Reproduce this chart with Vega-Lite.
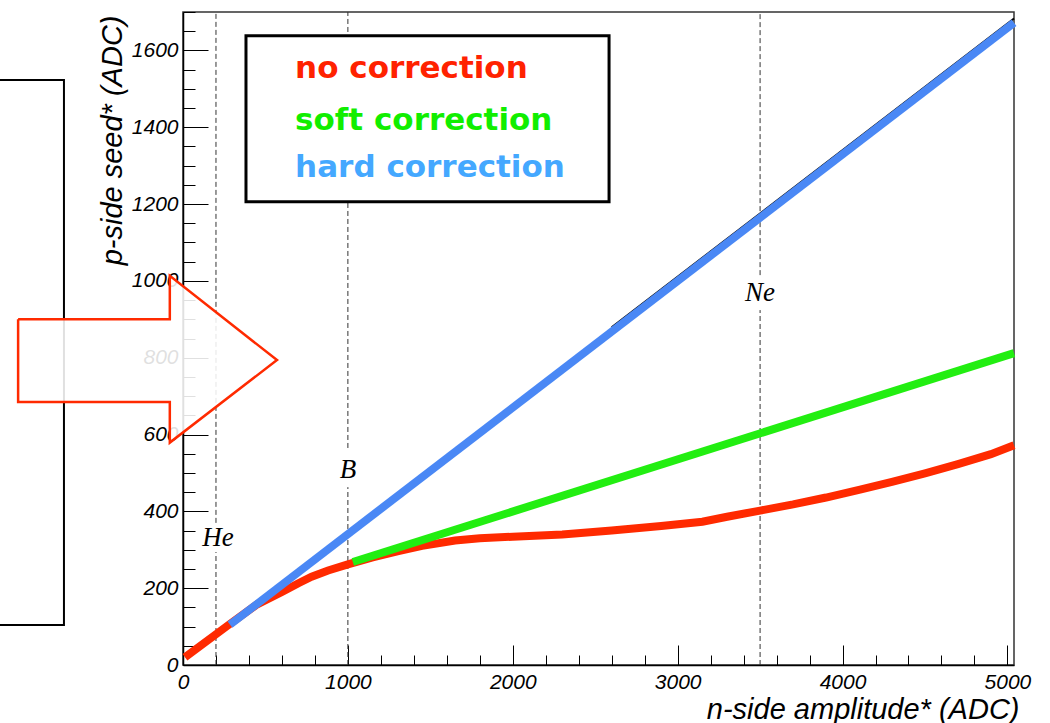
{
  "$schema": "https://vega.github.io/schema/vega-lite/v6.json",
  "width": 831,
  "height": 653,
  "autosize": {"type": "none"},
  "padding": {"left": 183, "top": 12, "right": 36, "bottom": 58},
  "background": "white",
  "config": {
    "view": {"stroke": "#333333", "strokeWidth": 1.5},
    "axis": {
      "grid": false,
      "domainColor": "#000000",
      "domainWidth": 1.5,
      "tickColor": "#000000",
      "tickWidth": 1,
      "labelFont": "Liberation Sans",
      "labelFontStyle": "italic",
      "labelFontSize": 21,
      "labelColor": "#000000",
      "titleFont": "Liberation Sans",
      "titleFontStyle": "italic",
      "titleFontWeight": "normal",
      "titleFontSize": 29,
      "titleColor": "#000000"
    }
  },
  "datasets": {
    "curves": [
      {"series": "no correction", "x": 12, "y": 20},
      {"series": "no correction", "x": 285, "y": 107},
      {"series": "no correction", "x": 450, "y": 158},
      {"series": "no correction", "x": 600, "y": 190},
      {"series": "no correction", "x": 700, "y": 213},
      {"series": "no correction", "x": 780, "y": 230},
      {"series": "no correction", "x": 880, "y": 246},
      {"series": "no correction", "x": 1000, "y": 262},
      {"series": "no correction", "x": 1150, "y": 280},
      {"series": "no correction", "x": 1300, "y": 296},
      {"series": "no correction", "x": 1450, "y": 310},
      {"series": "no correction", "x": 1650, "y": 324},
      {"series": "no correction", "x": 1800, "y": 330},
      {"series": "no correction", "x": 2000, "y": 334},
      {"series": "no correction", "x": 2300, "y": 340},
      {"series": "no correction", "x": 2600, "y": 350},
      {"series": "no correction", "x": 2900, "y": 362},
      {"series": "no correction", "x": 3150, "y": 373},
      {"series": "no correction", "x": 3300, "y": 386},
      {"series": "no correction", "x": 3500, "y": 402},
      {"series": "no correction", "x": 3700, "y": 418},
      {"series": "no correction", "x": 3900, "y": 436},
      {"series": "no correction", "x": 4100, "y": 456},
      {"series": "no correction", "x": 4300, "y": 477},
      {"series": "no correction", "x": 4500, "y": 499},
      {"series": "no correction", "x": 4700, "y": 523},
      {"series": "no correction", "x": 4900, "y": 549},
      {"series": "no correction", "x": 5040, "y": 572},
      {"series": "soft correction", "x": 1030, "y": 268},
      {"series": "soft correction", "x": 5040, "y": 812},
      {"series": "hard correction", "x": 285, "y": 105},
      {"series": "hard correction", "x": 5040, "y": 1672}
    ],
    "profile": [
      {"x": 2600, "y": 879},
      {"x": 5040, "y": 1683}
    ],
    "markers": [
      {"x": 200, "y": 0, "y2": 294},
      {"x": 200, "y": 370, "y2": 1700},
      {"x": 1000, "y": 0, "y2": 463},
      {"x": 1000, "y": 565, "y2": 1700},
      {"x": 3500, "y": 0, "y2": 924},
      {"x": 3500, "y": 1015, "y2": 1700}
    ],
    "markerLabels": [
      {"name": "He", "x": 212, "y": 331},
      {"name": "B", "x": 1000, "y": 508},
      {"name": "Ne", "x": 3500, "y": 968}
    ],
    "legendBox": [{"x": 382, "x2": 2584, "y": 1638, "y2": 1206}],
    "legendText": [
      {"series": "no correction", "x": 680, "y": 1527},
      {"series": "soft correction", "x": 680, "y": 1394},
      {"series": "hard correction", "x": 680, "y": 1270}
    ],
    "sideBox": [{"x": -1500, "x2": -722, "y": 1523, "y2": 104}],
    "arrow": [
      {"i": 0, "x": -1000, "y": 900},
      {"i": 1, "x": -80, "y": 900},
      {"i": 2, "x": -80, "y": 1013},
      {"i": 3, "x": 570, "y": 794},
      {"i": 4, "x": -80, "y": 579},
      {"i": 5, "x": -80, "y": 685},
      {"i": 6, "x": -1000, "y": 685},
      {"i": 7, "x": -1000, "y": 900}
    ]
  },
  "encoding": {
    "x": {
      "field": "x",
      "type": "quantitative",
      "scale": {"domain": [0, 5040], "nice": false, "zero": false},
      "axis": {
        "title": "n-side amplitude* (ADC)",
        "values": [0, 200, 400, 600, 800, 1000, 1200, 1400, 1600, 1800, 2000, 2200, 2400, 2600, 2800, 3000, 3200, 3400, 3600, 3800, 4000, 4200, 4400, 4600, 4800, 5000],
        "format": "d",
        "labelExpr": "datum.value % 1000 == 0 ? datum.label : ''",
        "tickSize": {"condition": {"test": "datum.value % 1000 == 0", "value": -20}, "value": -10},
        "labelPadding": 26,
        "labelFlush": false,
        "labelOverlap": false,
        "titleAnchor": "end",
        "titleAlign": "right",
        "titleX": 836,
        "titleY": 53,
        "titleBaseline": "alphabetic"
      }
    },
    "y": {
      "field": "y",
      "type": "quantitative",
      "scale": {"domain": [0, 1700], "nice": false, "zero": false},
      "axis": {
        "title": "p-side seed* (ADC)",
        "values": [0, 50, 100, 150, 200, 250, 300, 350, 400, 450, 500, 550, 600, 650, 700, 750, 800, 850, 900, 950, 1000, 1050, 1100, 1150, 1200, 1250, 1300, 1350, 1400, 1450, 1500, 1550, 1600, 1650, 1700],
        "format": "d",
        "labelExpr": "datum.value % 200 == 0 && datum.value < 1700 ? datum.label : ''",
        "tickSize": {"condition": {"test": "datum.value % 200 == 0", "value": -25}, "value": -12},
        "labelPadding": 30,
        "labelFlush": false,
        "labelOverlap": false,
        "titleAngle": 270,
        "titleAlign": "right",
        "titleX": -62,
        "titleY": 3,
        "titleBaseline": "alphabetic"
      }
    }
  },
  "layer": [
    {
      "data": {"name": "sideBox"},
      "mark": {"type": "rect", "fill": "transparent", "stroke": "#000000", "strokeWidth": 2, "clip": false},
      "encoding": {"x2": {"field": "x2"}, "y2": {"field": "y2"}}
    },
    {
      "data": {"name": "markers"},
      "mark": {"type": "rule", "color": "#333333", "strokeWidth": 1, "strokeDash": [5, 3]},
      "encoding": {"y2": {"field": "y2"}}
    },
    {
      "data": {"name": "markerLabels"},
      "mark": {"type": "text", "font": "Liberation Serif", "fontStyle": "italic", "fontSize": 27, "color": "#000000", "align": "center", "baseline": "middle"},
      "encoding": {"text": {"field": "name"}}
    },
    {
      "data": {"name": "profile"},
      "mark": {"type": "line", "color": "#000000", "strokeWidth": 2},
      "encoding": {}
    },
    {
      "data": {"name": "curves"},
      "mark": {"type": "line", "strokeWidth": 8, "strokeCap": "butt"},
      "encoding": {
        "color": {
          "field": "series",
          "type": "nominal",
          "scale": {"domain": ["no correction", "soft correction", "hard correction"], "range": ["#ff2a00", "#22ee11", "#4a88f5"]},
          "legend": null
        }
      }
    },
    {
      "data": {"name": "legendBox"},
      "mark": {"type": "rect", "fill": "#ffffff", "stroke": "#000000", "strokeWidth": 3},
      "encoding": {"x2": {"field": "x2"}, "y2": {"field": "y2"}}
    },
    {
      "data": {"name": "legendText"},
      "mark": {"type": "text", "font": "DejaVu Sans", "fontWeight": "bold", "fontSize": 31, "align": "left", "baseline": "alphabetic"},
      "encoding": {
        "text": {"field": "series"},
        "color": {
          "field": "series",
          "type": "nominal",
          "scale": {"domain": ["no correction", "soft correction", "hard correction"], "range": ["#ff2200", "#11ee00", "#44a8ff"]},
          "legend": null
        }
      }
    },
    {
      "data": {"name": "arrow"},
      "mark": {"type": "line", "fill": "#ffffff", "fillOpacity": 0.88, "stroke": "#ff2a00", "strokeWidth": 2.5, "strokeJoin": "miter", "clip": false},
      "encoding": {"order": {"field": "i", "type": "quantitative"}}
    }
  ],
  "resolve": {"scale": {"color": "independent"}}
}
